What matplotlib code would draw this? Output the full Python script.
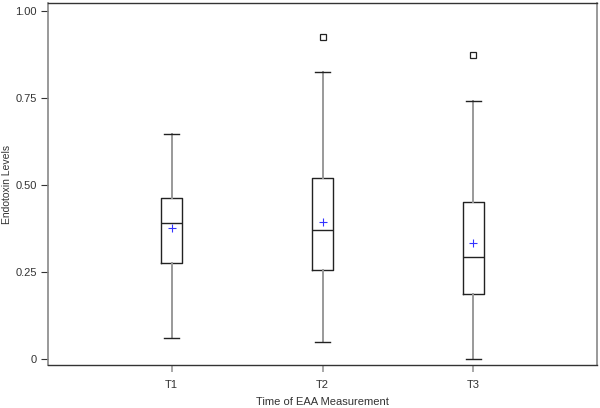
import matplotlib
matplotlib.use('Agg')
import matplotlib.pyplot as plt

# box statistics
labels = ['T1', 'T2', 'T3']
whislo = [0.061, 0.051, 0.0]
q1 = [0.276, 0.256, 0.188]
med = [0.390, 0.371, 0.293]
q3 = [0.462, 0.519, 0.450]
whishi = [0.645, 0.825, 0.742]
means = [0.378, 0.393, 0.333]
outliers = [[], [0.923], [0.872]]

plt.rcParams['font.family'] = ['Liberation Sans', 'DejaVu Sans']

stats = []
for i in range(len(labels)):
    stats.append({'label': labels[i], 'whislo': whislo[i], 'q1': q1[i], 'med': med[i],
                  'q3': q3[i], 'whishi': whishi[i], 'mean': means[i], 'fliers': outliers[i]})

fig = plt.figure(figsize=(6, 4.08), dpi=100)
ax = fig.add_axes([0.08, 0.1054, 0.915, 0.887])

ax.bxp(stats, positions=[1, 2, 3], widths=0.14, showmeans=True, showfliers=True,
       capwidths=0.1,
       boxprops=dict(color='#222222', linewidth=1.0),
       medianprops=dict(color='#222222', linewidth=1.0),
       whiskerprops=dict(color='#999999', linewidth=1.4),
       capprops=dict(color='#222222', linewidth=1.0),
       meanprops=dict(marker='+', markeredgecolor='#3333ff', markersize=6, markeredgewidth=0.8),
       flierprops=dict(marker='s', markerfacecolor='none', markeredgecolor='#222222',
                       markersize=5, markeredgewidth=0.9))

ax.set_xlim(0.18, 3.82)
ax.set_ylim(-0.016, 1.0215)
ax.set_yticks([0, 0.25, 0.5, 0.75, 1.0])
ax.set_yticklabels(['0', '0.25', '0.50', '0.75', '1.00'])
ax.set_xticks([1, 2, 3])
ax.set_xticklabels(labels)
ax.tick_params(axis='y', length=5, width=0.8, color='#333333', labelsize=8, labelcolor='#333333', pad=3)
ax.tick_params(axis='x', length=5, width=1.2, color='#999999', labelsize=8, labelcolor='#333333', pad=6)

for s in ['left', 'right']:
    ax.spines[s].set_color('#888888')
    ax.spines[s].set_linewidth(1.2)
for s in ['top', 'bottom']:
    ax.spines[s].set_color('#333333')
    ax.spines[s].set_linewidth(1.0)

ax.set_xlabel('Time of EAA Measurement', fontsize=8, color='#333333', labelpad=5)
ax.set_ylabel('Endotoxin Levels', fontsize=7.5, color='#333333')
ax.yaxis.set_label_coords(-0.066, 0.5)

fig.savefig('out.png', dpi=100)
